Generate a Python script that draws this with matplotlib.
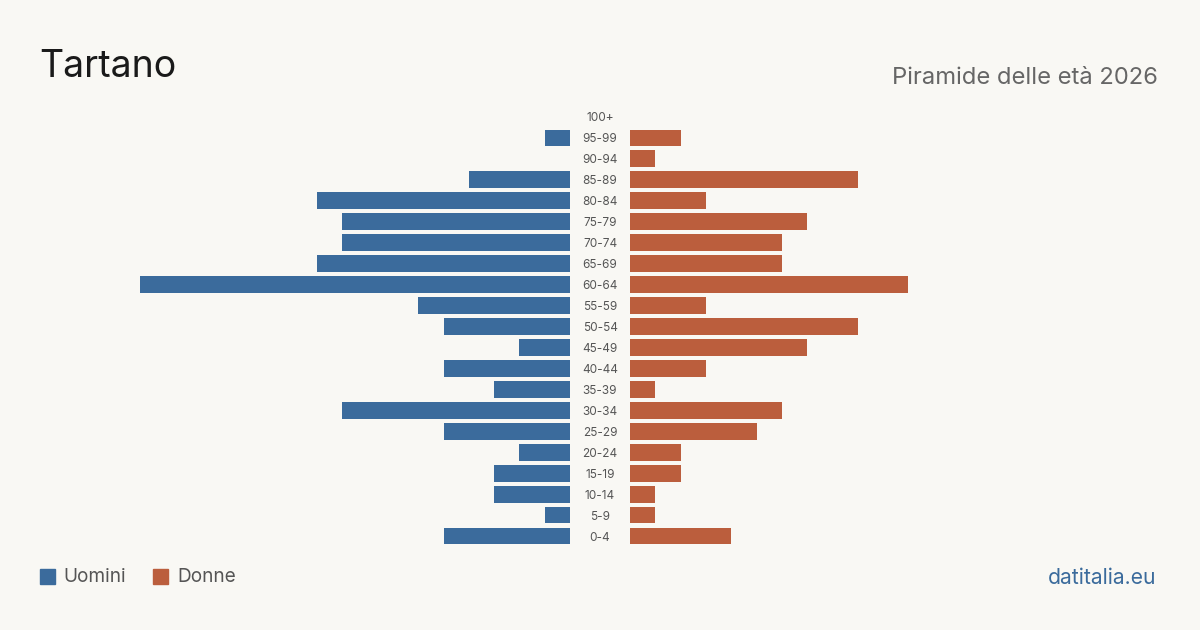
import matplotlib
matplotlib.use('Agg')
import matplotlib.pyplot as plt
from matplotlib.patches import Rectangle

plt.rcParams['font.family'] = ['Inter', 'DejaVu Sans']

# dati
eta = ['0-4', '5-9', '10-14', '15-19', '20-24', '25-29', '30-34', '35-39', '40-44',
       '45-49', '50-54', '55-59', '60-64', '65-69', '70-74', '75-79', '80-84',
       '85-89', '90-94', '95-99', '100+']
uomini = [5, 1, 3, 3, 2, 5, 9, 3, 5, 2, 5, 6, 17, 10, 9, 9, 10, 4, 0, 1, 0]
donne = [4, 1, 1, 2, 2, 5, 6, 1, 3, 7, 9, 3, 11, 6, 6, 7, 3, 9, 1, 2, 0]

BG = '#f9f8f4'
BLU = '#3b6b9c'
ARANCIO = '#bb5e3d'

W, H = 1200, 630
fig = plt.figure(figsize=(12, 6.3), dpi=100, facecolor=BG)

unit = 25.3  # px per persona
y_top, y_bot = 106.5, 546.5
b = (H - y_bot) / H
h = (y_bot - y_top) / H

ax_l = fig.add_axes([40 / W, b, 530 / W, h])
ax_r = fig.add_axes([630 / W, b, 530 / W, h])

pos = list(range(len(eta)))
ax_l.barh(pos, uomini, height=0.8, color=BLU)
ax_r.barh(pos, donne, height=0.8, color=ARANCIO)
ax_l.set_xlim(530 / unit, 0)
ax_r.set_xlim(0, 530 / unit)
for ax in (ax_l, ax_r):
    ax.set_ylim(-0.5, len(eta) - 0.5)
    ax.axis('off')
    ax.set_facecolor('none')

# etichette età al centro
for i, lab in enumerate(eta):
    yy = (y_bot - (i + 0.5) * (y_bot - y_top) / len(eta)) + 1.5
    fig.text(600 / W, 1 - yy / H, lab, ha='center', va='center',
             fontsize=8.5, color='#555555')

fig.text(39 / W, 1 - 67 / H, 'Tartano', ha='left', va='center',
         fontsize=27, color='#1a1a1a')
fig.text(1158 / W, 1 - 78 / H, 'Piramide delle età 2026', ha='right', va='center',
         fontsize=17.1, color='#666666')

# legenda
fig.patches.append(Rectangle((40 / W, 1 - 584 / H), 15 / W, 15 / H,
                             transform=fig.transFigure, color=BLU))
fig.text(63 / W, 1 - 577.5 / H, 'Uomini', ha='left', va='center', fontsize=13.7, color='#555555')
fig.patches.append(Rectangle((153 / W, 1 - 584 / H), 15 / W, 15 / H,
                             transform=fig.transFigure, color=ARANCIO))
fig.text(177 / W, 1 - 577.5 / H, 'Donne', ha='left', va='center', fontsize=13.7, color='#555555')

fig.text(1156 / W, 1 - 577.5 / H, 'datitalia.eu', ha='right', va='center',
         fontsize=15.2, color=BLU)

fig.savefig('out.png', dpi=100, facecolor=BG)
